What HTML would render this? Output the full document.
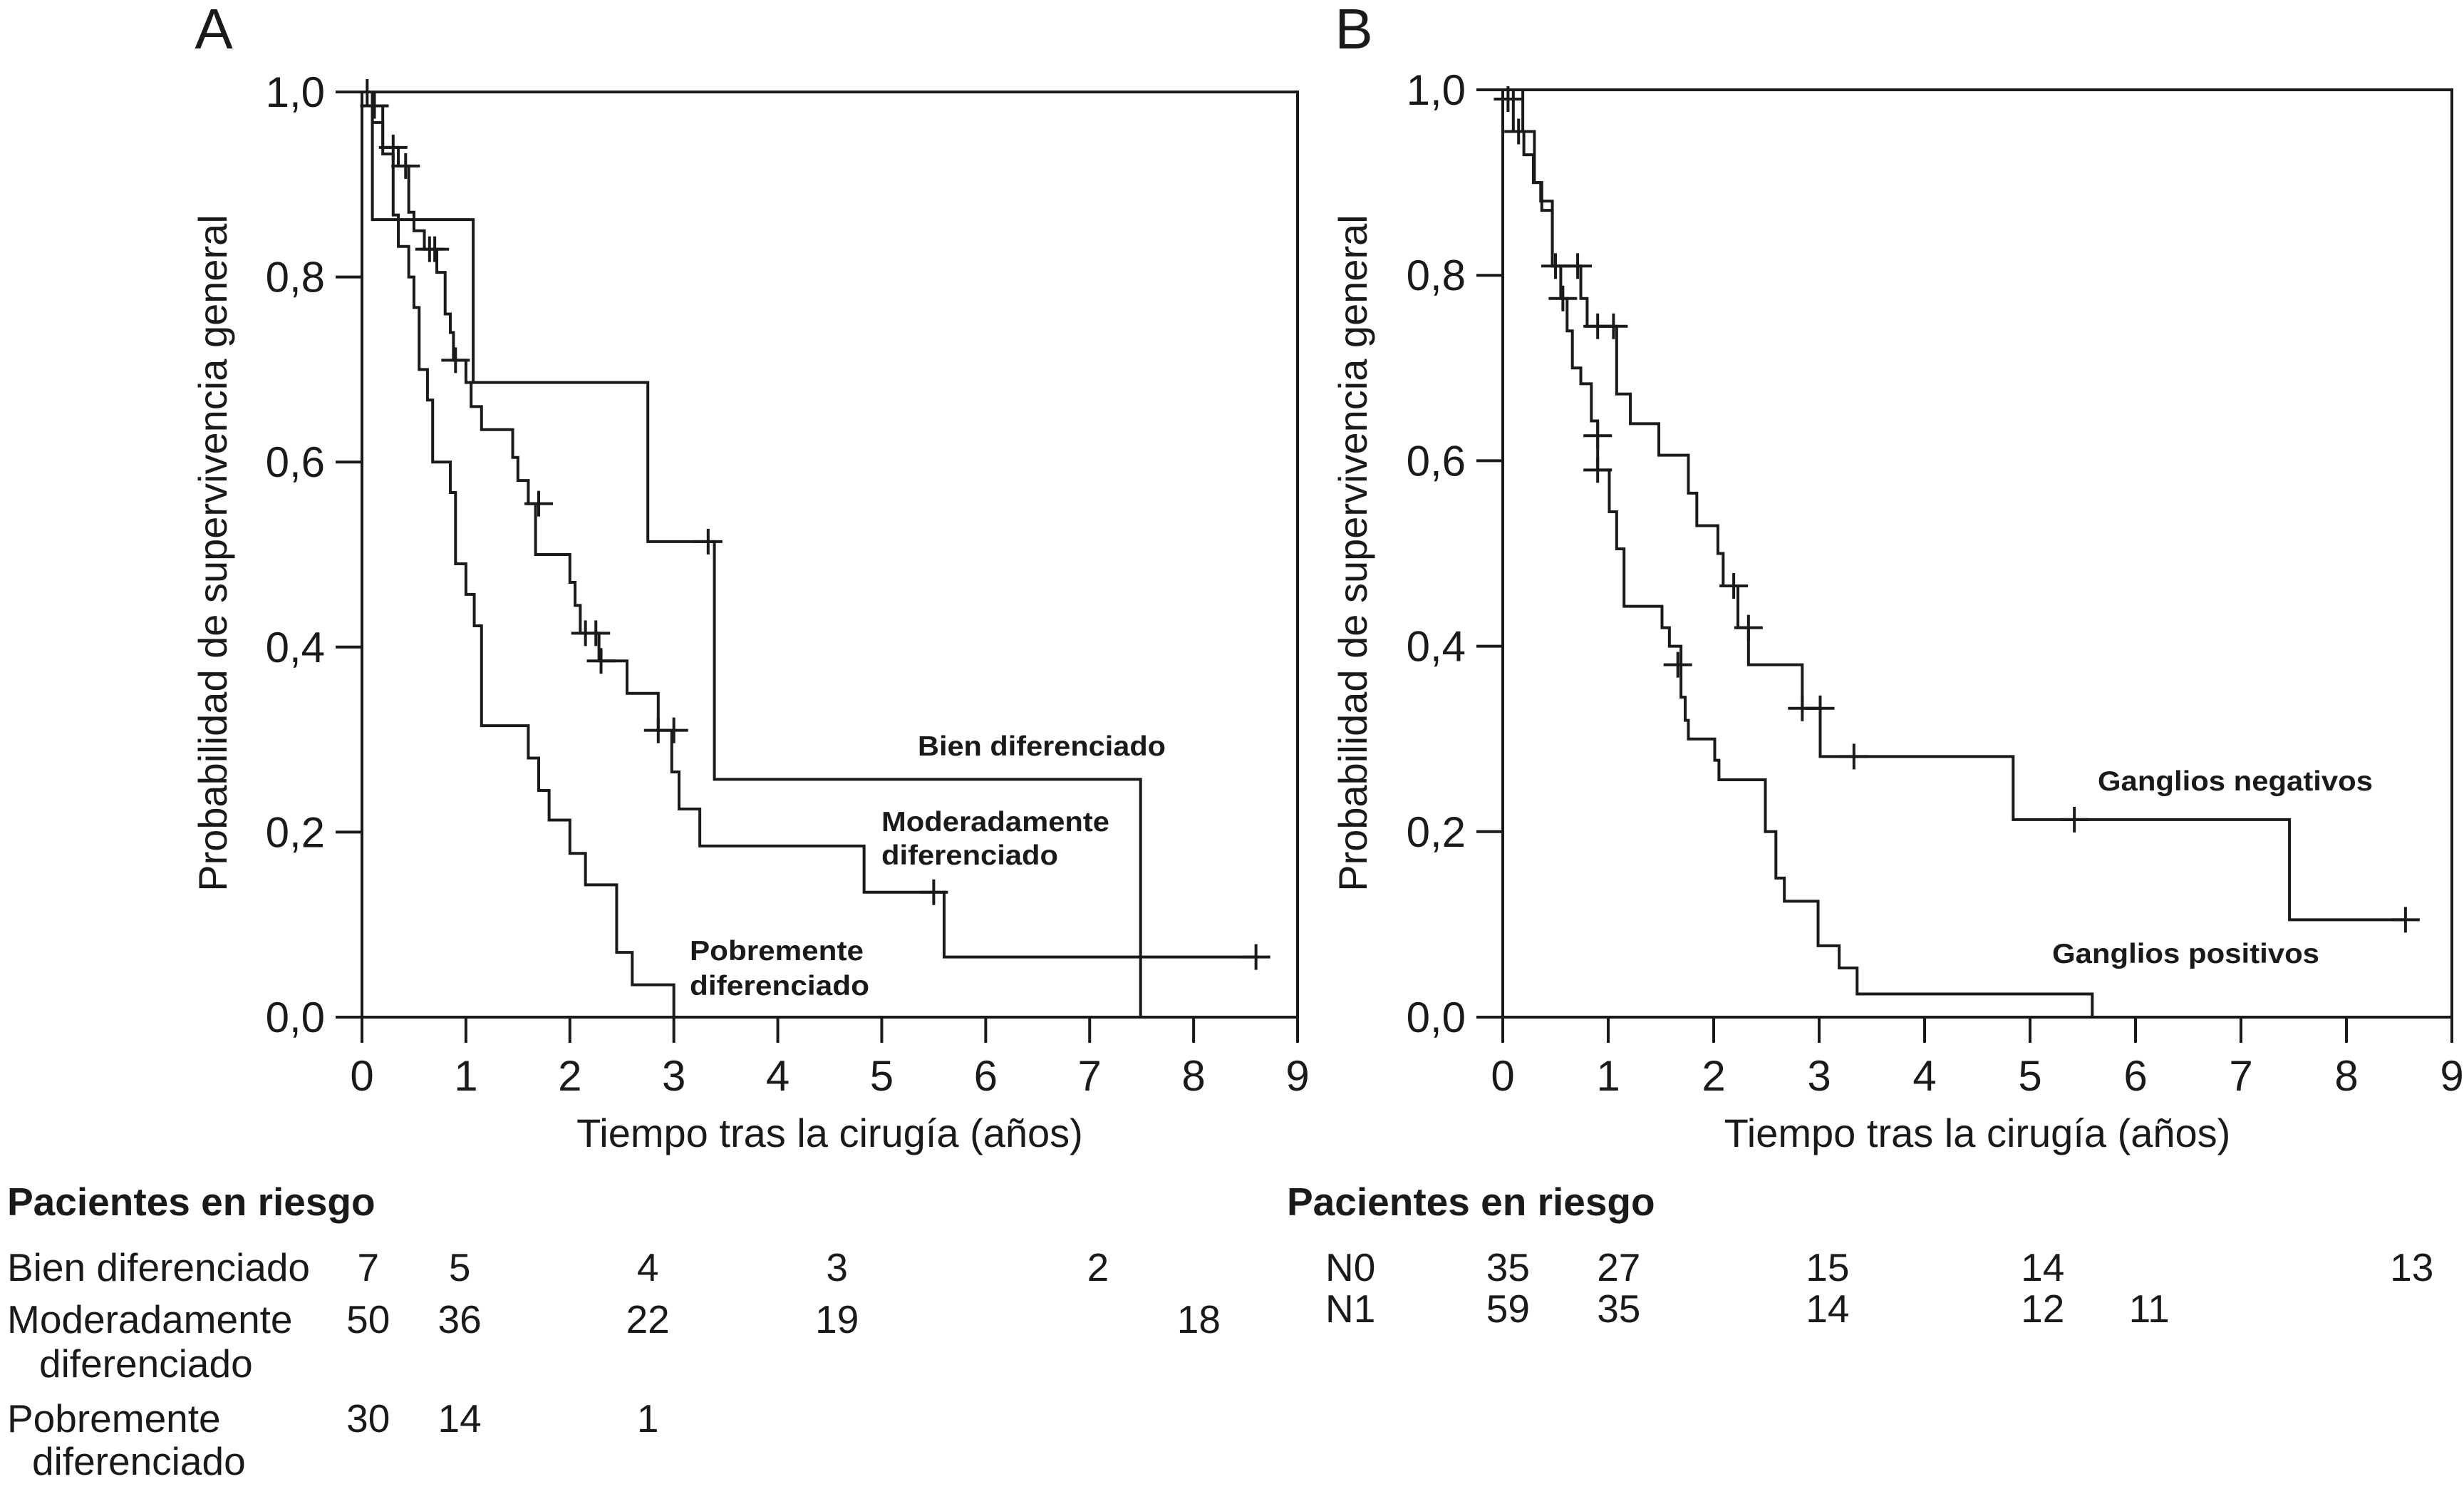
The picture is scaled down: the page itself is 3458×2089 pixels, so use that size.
<!DOCTYPE html>
<html><head><meta charset="utf-8"><style>
html,body{margin:0;padding:0;background:#fff;}
svg{display:block;font-family:"Liberation Sans",Arial,sans-serif;}
</style></head><body>
<svg id="fig" width="3458" height="2089" viewBox="0 0 3458 2089" xmlns="http://www.w3.org/2000/svg">
<g id="panelA"></g>
<g id="panelB"></g>
<g id="tables" font-size="55" fill="#1a1a1a">
  <text x="10" y="1705" font-weight="bold">Pacientes en riesgo</text>
  <text x="10" y="1797">Bien diferenciado</text>
  <text x="10" y="1870">Moderadamente</text>
  <text x="55" y="1932">diferenciado</text>
  <text x="10" y="2009">Pobremente</text>
  <text x="45" y="2069">diferenciado</text>
  <text x="1806" y="1705" font-weight="bold">Pacientes en riesgo</text>
  <text x="1860" y="1797">N0</text>
  <text x="1860" y="1855">N1</text>
</g>
<g id="tableNums" font-size="55" fill="#1a1a1a" text-anchor="middle"></g>
</svg>
<script>
// ---------- Panel A data ----------
const bienT = [0, 0.1, 1.07, 2.75, 3.39, 7.49];
const bienS = [1.0, 0.862, 0.686, 0.514, 0.257, 0.0];
const bienEnd = 7.49;
const bienCensT = [0.05, 3.33];
const bienCensS = [1.0, 0.514];

const modT = [0, 0.1, 0.2, 0.35, 0.45, 0.5, 0.6, 0.72, 0.8, 0.85, 0.88, 1.0, 1.05, 1.15, 1.45, 1.5, 1.6, 1.67, 2.0, 2.05, 2.1, 2.28, 2.55, 2.85, 2.98, 3.05, 3.25, 4.83, 5.6];
const modS = [1.0, 0.985, 0.94, 0.92, 0.87, 0.85, 0.83, 0.805, 0.76, 0.74, 0.71, 0.686, 0.66, 0.635, 0.605, 0.58, 0.555, 0.50, 0.47, 0.445, 0.415, 0.385, 0.35, 0.31, 0.265, 0.225, 0.185, 0.135, 0.065];
const modEnd = 8.6;
const modCensT = [0.12, 0.3, 0.42, 0.65, 0.7, 0.9, 1.7, 2.15, 2.25, 2.3, 2.85, 3.0, 5.5, 8.6];
const modCensS = [0.985, 0.94, 0.92, 0.83, 0.83, 0.71, 0.555, 0.415, 0.415, 0.385, 0.31, 0.31, 0.135, 0.065];

const pobT = [0, 0.1, 0.2, 0.3, 0.35, 0.45, 0.5, 0.55, 0.63, 0.68, 0.85, 0.9, 1.0, 1.08, 1.15, 1.6, 1.7, 1.8, 2.0, 2.15, 2.45, 2.6, 3.0];
const pobS = [1.0, 0.967, 0.933, 0.867, 0.833, 0.80, 0.767, 0.70, 0.667, 0.60, 0.567, 0.49, 0.457, 0.423, 0.315, 0.28, 0.245, 0.213, 0.177, 0.143, 0.07, 0.035, 0.0];
const pobEnd = 3.0;

// ---------- Panel B data ----------
const n0T = [0, 0.19, 0.3, 0.36, 0.47, 0.74, 0.8, 1.08, 1.21, 1.48, 1.76, 1.84, 2.04, 2.09, 2.23, 2.33, 2.84, 3.01, 4.84, 7.46];
const n0S = [1.0, 0.955, 0.90, 0.88, 0.81, 0.775, 0.745, 0.672, 0.640, 0.606, 0.565, 0.53, 0.50, 0.465, 0.42, 0.38, 0.333, 0.281, 0.213, 0.105];
const n0End = 8.56;
const n0CensT = [0.05, 0.5, 0.71, 0.9, 1.05, 2.19, 2.33, 2.84, 3.01, 3.33, 5.42, 8.56];
const n0CensS = [0.99, 0.81, 0.81, 0.745, 0.745, 0.465, 0.42, 0.333, 0.333, 0.281, 0.213, 0.105];

const n1T = [0, 0.1, 0.2, 0.29, 0.37, 0.47, 0.55, 0.61, 0.66, 0.74, 0.84, 0.9, 1.01, 1.08, 1.15, 1.51, 1.58, 1.69, 1.73, 1.76, 2.01, 2.05, 2.49, 2.59, 2.67, 2.99, 3.19, 3.36, 5.59];
const n1S = [1.0, 0.955, 0.93, 0.90, 0.87, 0.81, 0.775, 0.74, 0.70, 0.683, 0.643, 0.59, 0.545, 0.505, 0.443, 0.42, 0.40, 0.345, 0.32, 0.30, 0.277, 0.256, 0.20, 0.15, 0.125, 0.077, 0.053, 0.025, 0.0];
const n1End = 5.59;
const n1CensT = [0.15, 0.57, 0.9, 0.9, 1.66];
const n1CensS = [0.955, 0.775, 0.627, 0.59, 0.38];

// ---------- Axes ----------
const xTicks = [0,1,2,3,4,5,6,7,8,9];
const yTicks = [0, 0.2, 0.4, 0.6, 0.8, 1.0];
const yTickLabels = ["0,0","0,2","0,4","0,6","0,8","1,0"];
const xTitle = "Tiempo tras la cirugía (años)";
const yTitle = "Probabilidad de supervivencia general";

// ---------- Risk tables ----------
const riskBien = [7, 5, 4, 3, 2];
const riskBienT = [0.06, 0.94, 2.75, 4.57, 7.08];
const riskMod = [50, 36, 22, 19, 18];
const riskModT = [0.06, 0.94, 2.75, 4.57, 8.05];
const riskPob = [30, 14, 1];
const riskPobT = [0.06, 0.94, 2.75];
const riskN0 = [35, 27, 15, 14, 13];
const riskN0T = [0.05, 1.1, 3.08, 5.12, 8.62];
const riskN1 = [59, 35, 14, 12, 11];
const riskN1T = [0.05, 1.1, 3.08, 5.12, 6.13];

const NS = "http://www.w3.org/2000/svg";
function mk(tag, attrs, parent){
  const e = document.createElementNS(NS, tag);
  for (const k in attrs) e.setAttribute(k, attrs[k]);
  parent.appendChild(e); return e;
}

function buildPanel(g, L, R, T, B, letter, letterX, ytitleX){
  const xs = t => L + (R - L) * t / 9;
  const ys = s => B - (B - T) * s;
  const fr = mk('rect', {x:L, y:T, width:R-L, height:B-T, fill:'none', stroke:'#1a1a1a', 'stroke-width':4}, g);
  
  
  xTicks.forEach(v => {
    const l = mk('line', {x1:xs(v), x2:xs(v), y1:B, y2:B+36, stroke:'#1a1a1a', 'stroke-width':4}, g);
    
    
    const t = mk('text', {x:xs(v), y:B+103, 'font-size':60, 'text-anchor':'middle', fill:'#1a1a1a'}, g);
    
    
    t.textContent = v;
  });
  yTicks.forEach((v,i) => {
    const l = mk('line', {x1:L-37, x2:L, y1:ys(v), y2:ys(v), stroke:'#1a1a1a', 'stroke-width':4}, g);
    
    
    const t = mk('text', {x:L-52, y:ys(v)+21, 'font-size':60, 'text-anchor':'end', fill:'#1a1a1a'}, g);
    
    
    t.textContent = yTickLabels[i];
  });
  const xt = mk('text', {x:(L+R)/2, y:B+182, 'font-size':56, 'text-anchor':'middle', fill:'#1a1a1a'}, g);
  
  
  xt.textContent = xTitle;
  const cy = 776;
  const yt = mk('text', {x:ytitleX, y:cy, 'font-size':56, 'text-anchor':'middle', fill:'#1a1a1a', transform:`rotate(-90 ${ytitleX} ${cy})`}, g);
  
  
  yt.textContent = yTitle;
  const lt = mk('text', {x:letterX, y:68, 'font-size':80, 'text-anchor':'middle', fill:'#1a1a1a'}, g);
  
  
  lt.textContent = letter;
  return {xs, ys};
}

function curve(g, ax, T, S, end, name){
  let d = `M${ax.xs(T[0])},${ax.ys(S[0])}`;
  for (let i = 1; i < T.length; i++){
    d += ` H${ax.xs(T[i])} V${ax.ys(S[i])}`;
  }
  d += ` H${ax.xs(end)}`;
  const p = mk('path', {d, fill:'none', stroke:'#1a1a1a', 'stroke-width':4}, g);
  
  
}
function cens(g, ax, T, S, name){
  T.forEach((t,i) => {
    const x = ax.xs(t), y = ax.ys(S[i]);
    const p = mk('path', {d:`M${x-20},${y} H${x+20} M${x},${y-18} V${y+18}`, stroke:'#1a1a1a', 'stroke-width':4, fill:'none'}, g);
    
    
  });
}
function label(g, x, y, txt, name, w){
  const t = mk('text', {x, y, 'font-size':39, 'font-weight':'bold', fill:'#1a1a1a', textLength:w, lengthAdjust:'spacingAndGlyphs'}, g);
  
  
  t.textContent = txt;
}

const gA = document.getElementById('panelA');
const axA = buildPanel(gA, 508, 1821, 129, 1427, 'A', 300, 318);
curve(gA, axA, bienT, bienS, bienEnd, 'curve-bien-diferenciado');
cens(gA, axA, bienCensT, bienCensS, 'censor-bien');
curve(gA, axA, modT, modS, modEnd, 'curve-moderadamente-diferenciado');
cens(gA, axA, modCensT, modCensS, 'censor-moderado');
curve(gA, axA, pobT, pobS, pobEnd, 'curve-pobremente-diferenciado');
label(gA, 1288, 1060, 'Bien diferenciado', 'label-bien', 348);
label(gA, 1237, 1166, 'Moderadamente', 'label-moderado', 320);
label(gA, 1237, 1213, 'diferenciado', 'label-moderado-2', 248);
label(gA, 968, 1347, 'Pobremente', 'label-pobre', 244);
label(gA, 968, 1396, 'diferenciado', 'label-pobre-2', 252);

const gB = document.getElementById('panelB');
const axB = buildPanel(gB, 2109, 3441, 126, 1427, 'B', 1900, 1918);
curve(gB, axB, n0T, n0S, n0End, 'curve-ganglios-negativos');
cens(gB, axB, n0CensT, n0CensS, 'censor-negativos');
curve(gB, axB, n1T, n1S, n1End, 'curve-ganglios-positivos');
cens(gB, axB, n1CensT, n1CensS, 'censor-positivos');
label(gB, 2944, 1109, 'Ganglios negativos', 'label-negativos', 386);
label(gB, 2880, 1351, 'Ganglios positivos', 'label-positivos', 375);

const gN = document.getElementById('tableNums');
function row(vals, ts, ax, y, name){
  vals.forEach((v,i) => {
    const t = mk('text', {x:ax.xs(ts[i]), y}, gN);
    
    
    t.textContent = v;
  });
}
row(riskBien, riskBienT, axA, 1797, 'risk-bien');
row(riskMod, riskModT, axA, 1870, 'risk-moderado');
row(riskPob, riskPobT, axA, 2009, 'risk-pobre');
row(riskN0, riskN0T, axB, 1797, 'risk-n0');
row(riskN1, riskN1T, axB, 1855, 'risk-n1');
</script>
</body></html>
